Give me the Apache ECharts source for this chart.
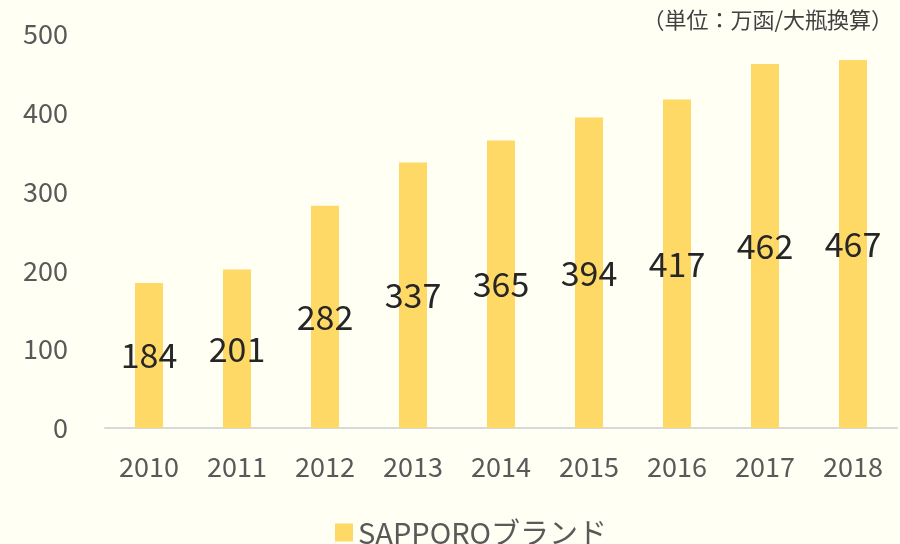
<!DOCTYPE html>
<html>
<head>
<meta charset="utf-8">
<script src="https://cdn.jsdelivr.net/npm/echarts@6/dist/echarts.min.js"></script>
<style>
  html, body { margin: 0; padding: 0; background: #FFFFF4; }
  #chart { width: 900px; height: 544px; }
</style>
</head>
<body>
<div id="chart"></div>
<script>
// 年次
const years = ['2010', '2011', '2012', '2013', '2014', '2015', '2016', '2017', '2018'];
// SAPPOROブランド 販売数量（万函/大瓶換算）
const sapporoValues = [184, 201, 282, 337, 365, 394, 417, 462, 467];
const yTicks = { min: 0, max: 500, interval: 100 };

const font = '"Noto Sans CJK JP", "Noto Sans", sans-serif';

const chart = echarts.init(document.getElementById('chart'));
chart.setOption({
  backgroundColor: '#FFFFF4',
  textStyle: { fontFamily: font },
  title: {
    text: '（単位：万函/大瓶換算）',
    right: 2,
    top: 4,
    textStyle: { fontSize: 22, fontWeight: 'normal', color: '#404040', fontFamily: font },
  },
  legend: {
    data: ['SAPPOROブランド'],
    left: 330,
    top: 513,
    itemWidth: 18,
    itemHeight: 18,
    itemGap: 10,
    icon: 'rect',
    textStyle: { fontSize: 29, color: '#595959', fontFamily: font },
  },
  grid: { left: 105, right: 3, top: 34, bottom: 116 },
  xAxis: {
    type: 'category',
    data: years,
    axisLine: { lineStyle: { color: '#D9D9D9', width: 2 } },
    axisTick: { show: false },
    axisLabel: { fontSize: 27, color: '#595959', margin: 25 },
  },
  yAxis: {
    type: 'value',
    min: yTicks.min,
    max: yTicks.max,
    interval: yTicks.interval,
    splitLine: { show: false },
    axisLine: { show: false },
    axisTick: { show: false },
    axisLabel: { fontSize: 27, color: '#595959', margin: 37 },
  },
  series: [
    {
      name: 'SAPPOROブランド',
      type: 'bar',
      data: sapporoValues,
      barWidth: 28,
      itemStyle: { color: '#FFD966' },
      label: {
        show: true,
        position: 'inside',
        fontSize: 34,
        color: '#262626',
        fontFamily: font,
      },
    },
  ],
});
</script>
</body>
</html>
